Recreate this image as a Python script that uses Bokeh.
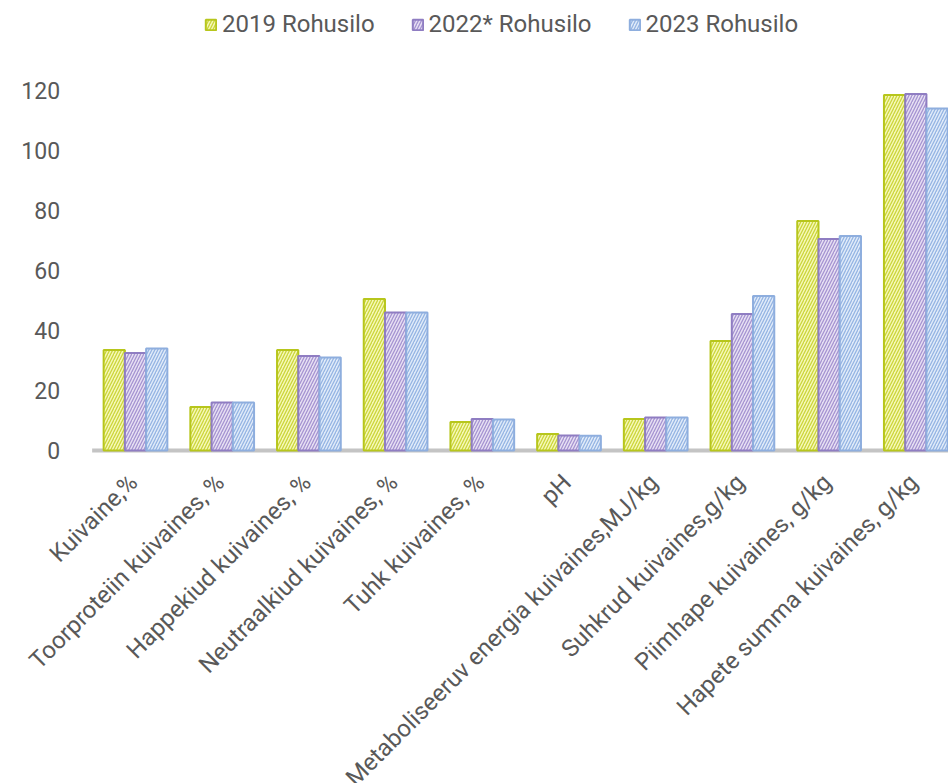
from bokeh.plotting import figure
from bokeh.models import ColumnDataSource, Legend, LegendItem, Range1d
from bokeh.core.properties import value
from bokeh.transform import dodge
from bokeh.embed import file_html
from bokeh.resources import INLINE
import math

categories = ["Kuivaine,%", "Toorproteiin kuivaines, %", "Happekiud kuivaines, %",
              "Neutraalkiud kuivaines, %", "Tuhk kuivaines, %", "pH",
              "Metaboliseeruv energia kuivaines,MJ/kg", "Suhkrud kuivaines,g/kg",
              "Piimhape kuivaines, g/kg", "Hapete summa kuivaines, g/kg"]
series_names = ["2019 Rohusilo", "2022* Rohusilo", "2023 Rohusilo"]
v2019 = [33.5, 14.5, 33.5, 50.5, 9.5, 5.5, 10.5, 36.5, 76.5, 118.5]
v2022 = [32.5, 16.0, 31.5, 46.0, 10.5, 5.0, 11.0, 45.5, 70.5, 118.8]
v2023 = [34.0, 16.0, 31.0, 46.0, 10.3, 4.9, 11.0, 51.5, 71.5, 114.0]
y_ticks = [0, 20, 40, 60, 80, 100, 120]
y_tick_labels = ["0", "20", "40", "60", "80", "100", "120"]

n = len(categories)
src = ColumnDataSource(dict(x=list(range(n)), cat=categories, base=[0] * n,
                            v2019=v2019, v2022=v2022, v2023=v2023))
ysrc = ColumnDataSource(dict(y=y_ticks, label=y_tick_labels, x=[-0.5] * len(y_ticks)))

# The frame covers the whole page so the slanted category texts (and the value
# labels of the vertical scale) can be drawn as glyphs through the plot's scales.
p = figure(width=948, height=783, output_backend="svg", toolbar_location=None,
           x_range=Range1d(-1.557, 9.377), y_range=Range1d(-111, 150),
           min_border_left=0, min_border_right=0, min_border_top=0, min_border_bottom=0)
p.outline_line_color = None
p.xgrid.visible = False
p.ygrid.visible = False
p.xaxis.visible = False
p.yaxis.visible = False

# floor of the chart
p.segment(x0=-0.5, y0=0, x1=n - 0.5, y1=0, line_color="#c4c4c4", line_width=4)

bw = 0.245
styles = [
    ("v2019", -bw, "#f6f8b8", "#cbd53a", "#b7c61c"),
    ("v2022", 0.0, "#e7e0f3", "#a593d1", "#8f7dc2"),
    ("v2023", bw, "#e0ebf9", "#94b4e3", "#8eaede"),
]
renderers = []
for col, off, fill, hatch, line in styles:
    r = p.vbar(x=dodge("x", off), top=col, width=bw, source=src,
               fill_color=fill, hatch_pattern="/", hatch_color=hatch,
               hatch_scale=6, hatch_weight=1.3, line_color=line, line_width=2)
    renderers.append(r)

# category labels
p.text(x="x", y="base", text="cat", source=src, angle=math.pi / 4,
       x_offset=-12, y_offset=18, text_align="right", text_baseline="top",
       text_font=value("Roboto"), text_font_size="24px", text_color="#595959")

# value scale labels
p.text(x="x", y="y", text="label", source=ysrc, x_offset=-32,
       text_align="right", text_baseline="middle",
       text_font=value("Roboto"), text_font_size="23px", text_color="#595959")

legend = Legend(items=[LegendItem(label=nm, renderers=[r]) for nm, r in zip(series_names, renderers)],
                orientation="horizontal", location=(204, 745),
                label_text_font="Roboto", label_text_font_size="24px", label_text_color="#595959",
                glyph_width=13, glyph_height=13, label_standoff=5, spacing=36,
                background_fill_alpha=0, border_line_color=None, padding=2, margin=0)
p.add_layout(legend)

open("out.html", "w").write(file_html(p, INLINE))
